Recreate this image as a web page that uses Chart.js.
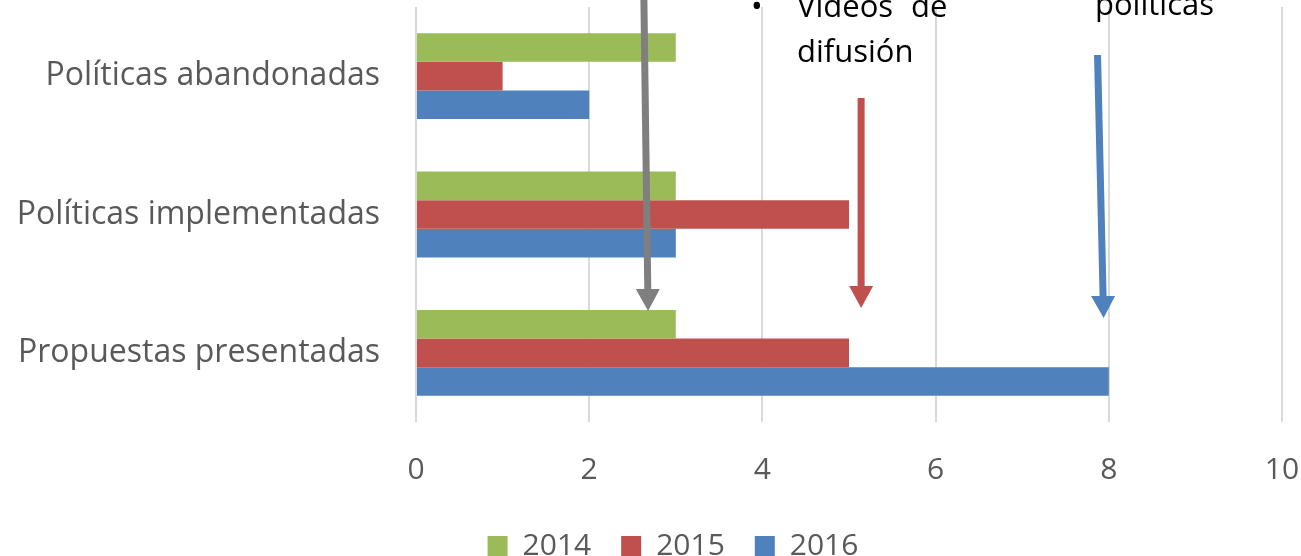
<!DOCTYPE html>
<html>
<head>
<meta charset="utf-8">
<script src="https://cdn.jsdelivr.net/npm/chart.js@4.4.1/dist/chart.umd.min.js"></script>
<style>
  html, body { margin: 0; padding: 0; background: #fff; }
  #wrap { width: 1301px; height: 556px; position: relative; }
</style>
</head>
<body>
<div id="wrap"><canvas id="grafico"></canvas></div>
<script>
const categorias = ['Políticas abandonadas', 'Políticas implementadas', 'Propuestas presentadas'];
const anios = ['2014', '2015', '2016'];
const valores2014 = [3, 3, 3];
const valores2015 = [1, 5, 5];
const valores2016 = [2, 3, 8];
const ticksX = [0, 2, 4, 6, 8, 10];

const colores = ['#9BBB59', '#C0504D', '#4F81BD'];
const FUENTE = '"Open Sans", "Noto Sans", sans-serif';
const GRIS = '#595959';

// flechas y textos superpuestos (anotaciones de la diapositiva)
const flechas = [
    { color: '#7F7F7F', x0: 2.63, y0: -10, x1: 2.68, y1: 311 },
    { color: '#C0504D', x0: 5.14, y0: 98, x1: 5.14, y1: 308 },
    { color: '#4F81BD', x0: 7.87, y0: 55, x1: 7.94, y1: 318 }
];
const textos = [
    { t: '•', x: 751, y: 17 },
    { t: 'Videos', x: 797, y: 17 },
    { t: 'de', x: 911, y: 17 },
    { t: 'difusión', x: 797, y: 62 },
    { t: 'políticas', x: 1095, y: 15 }
];

const anotaciones = {
    id: 'anotaciones',
    afterLayout(chart) {
        // la leyenda del original está un poco a la derecha del centro
        if (chart.legend) {
            chart.legend.left += 32;
            chart.legend.right += 32;
        }
    },
    afterDatasetsDraw(chart) {
        const ctx = chart.ctx;
        const xs = chart.scales.x;
        ctx.save();
        flechas.forEach(f => {
            const ax = xs.getPixelForValue(f.x0);
            const bx = xs.getPixelForValue(f.x1);
            const cabeza = 22;
            const ancho = 12;
            const baseY = f.y1 - cabeza;
            const baseX = ax + (bx - ax) * (baseY - f.y0) / (f.y1 - f.y0);
            ctx.strokeStyle = f.color;
            ctx.fillStyle = f.color;
            ctx.lineWidth = 7;
            ctx.beginPath();
            ctx.moveTo(ax, f.y0);
            ctx.lineTo(baseX, baseY + 1);
            ctx.stroke();
            ctx.beginPath();
            ctx.moveTo(baseX - ancho, baseY);
            ctx.lineTo(baseX + ancho, baseY);
            ctx.lineTo(bx, f.y1);
            ctx.closePath();
            ctx.fill();
        });
        ctx.fillStyle = '#000';
        ctx.font = '31px ' + FUENTE;
        ctx.textBaseline = 'alphabetic';
        ctx.textAlign = 'left';
        textos.forEach(t => ctx.fillText(t.t, t.x, t.y));
        ctx.restore();
    }
};

new Chart(document.getElementById('grafico'), {
    type: 'bar',
    data: {
        labels: categorias,
        datasets: [
            { label: anios[0], data: valores2014, backgroundColor: colores[0] },
            { label: anios[1], data: valores2015, backgroundColor: colores[1] },
            { label: anios[2], data: valores2016, backgroundColor: colores[2] }
        ]
    },
    options: {
        indexAxis: 'y',
        responsive: true,
        maintainAspectRatio: false,
        animation: false,
        categoryPercentage: 0.62,
        barPercentage: 1,
        layout: { padding: { top: 7, right: 19, bottom: -15, left: 0 } },
        scales: {
            x: {
                min: 0,
                max: 10,
                afterBuildTicks: s => { s.ticks = ticksX.map(v => ({ value: v })); },
                afterFit: s => { s.height = 79; s.paddingLeft = 0; s.paddingRight = 0; },
                grid: { color: '#D9D9D9', lineWidth: 2, drawTicks: false },
                border: { display: false },
                ticks: { color: GRIS, font: { family: FUENTE, size: 30 }, padding: 30 }
            },
            y: {
                afterFit: s => { s.width = 416; s.paddingTop = 0; s.paddingBottom = 0; },
                grid: { display: false },
                border: { display: false },
                ticks: { color: GRIS, font: { family: FUENTE, size: 32 }, padding: 28 }
            }
        },
        plugins: {
            legend: {
                position: 'bottom',
                labels: {
                    color: GRIS,
                    font: { family: FUENTE, size: 30 },
                    boxWidth: 20,
                    boxHeight: 20,
                    padding: 30
                }
            },
            tooltip: { enabled: false }
        }
    },
    plugins: [anotaciones]
});
</script>
</body>
</html>
